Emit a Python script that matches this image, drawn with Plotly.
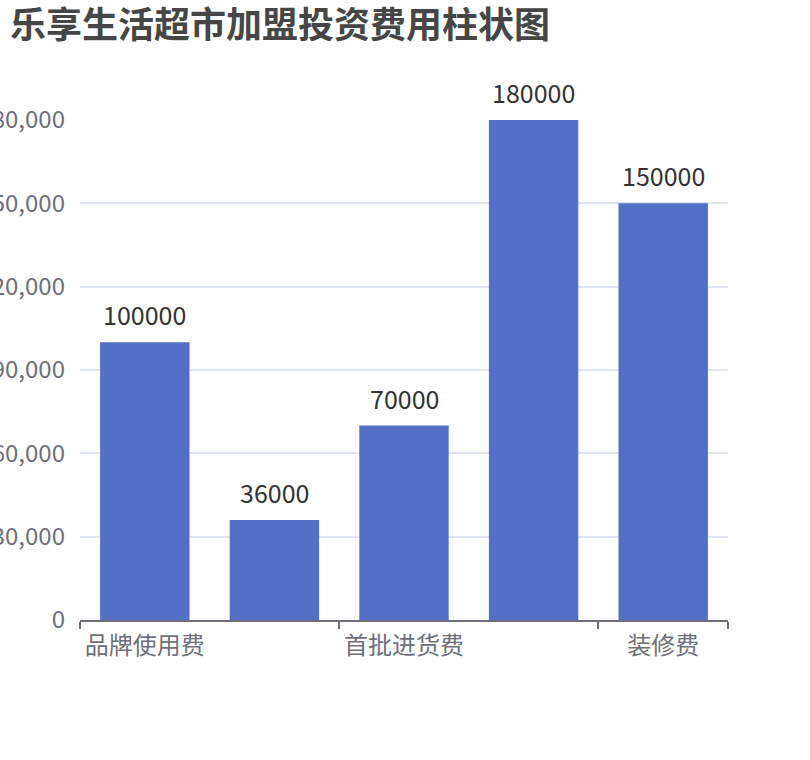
import plotly.graph_objects as go

categories = ["品牌使用费", "保证金", "首批进货费", "店铺租金", "装修费"]
values = [100000, 36000, 70000, 180000, 150000]
shown_label_idx = [0, 2, 4]
y_ticks = [0, 30000, 60000, 90000, 120000, 150000, 180000]
y_tick_text = ["0", "30,000", "60,000", "90,000", "120,000", "150,000", "180,000"]
title_text = "乐享生活超市加盟投资费用柱状图"

FONT = "Noto Sans CJK SC"
AXIS_COLOR = "#6e7079"

xpos = list(range(len(categories)))

fig = go.Figure()
fig.add_trace(go.Bar(
    x=xpos,
    y=values,
    hovertext=categories,
    marker=dict(color="#5470c6", line=dict(width=0)),
    width=0.69,
))

for xi, v in zip(xpos, values):
    fig.add_annotation(
        x=xi, y=v, xref="x", yref="y",
        text=str(v), showarrow=False,
        yanchor="bottom", yshift=8,
        font=dict(family=FONT, size=25, color="#333333"),
    )

W, H = 810, 760
fig.update_layout(
    width=W, height=H,
    margin=dict(l=80, r=W - 728, t=120, b=H - 620),
    paper_bgcolor="white", plot_bgcolor="white",
    showlegend=False,
    title=dict(text=title_text, x=10 / W, xref="container", xanchor="left",
               y=1 - 25 / H, yref="container", yanchor="middle",
               pad=dict(l=0),
               font=dict(family=FONT, size=36, color="#464646", weight="bold")),
    xaxis=dict(
        range=[-0.5, len(categories) - 0.5],
        tickmode="array",
        tickvals=[xpos[i] for i in shown_label_idx],
        ticktext=[categories[i] for i in shown_label_idx],
        ticks="", showgrid=False, zeroline=False,
        showline=True, linecolor=AXIS_COLOR, linewidth=1.5,
        tickfont=dict(family=FONT, size=24, color=AXIS_COLOR),
        ticklabelstandoff=3,
        minor=dict(
            tickmode="array",
            tickvals=[-0.5, 1.5, 3.5, 4.5],
            ticks="outside", ticklen=7, tickwidth=1.5, tickcolor=AXIS_COLOR,
            showgrid=False,
        ),
        automargin=False,
        fixedrange=True,
    ),
    yaxis=dict(
        range=[0, 180000],
        tickmode="array", tickvals=y_ticks, ticktext=y_tick_text,
        showgrid=True, gridcolor="#e0e6f1", gridwidth=1.5,
        zeroline=False, showline=False, ticks="",
        tickfont=dict(family=FONT, size=24, color=AXIS_COLOR),
        ticklabelstandoff=14,
        automargin=False,
        fixedrange=True,
    ),
)

fig.write_html(
    "out.html",
    config={"displayModeBar": False},
    post_script="document.body.style.margin='0';document.body.style.padding='0';",
)
